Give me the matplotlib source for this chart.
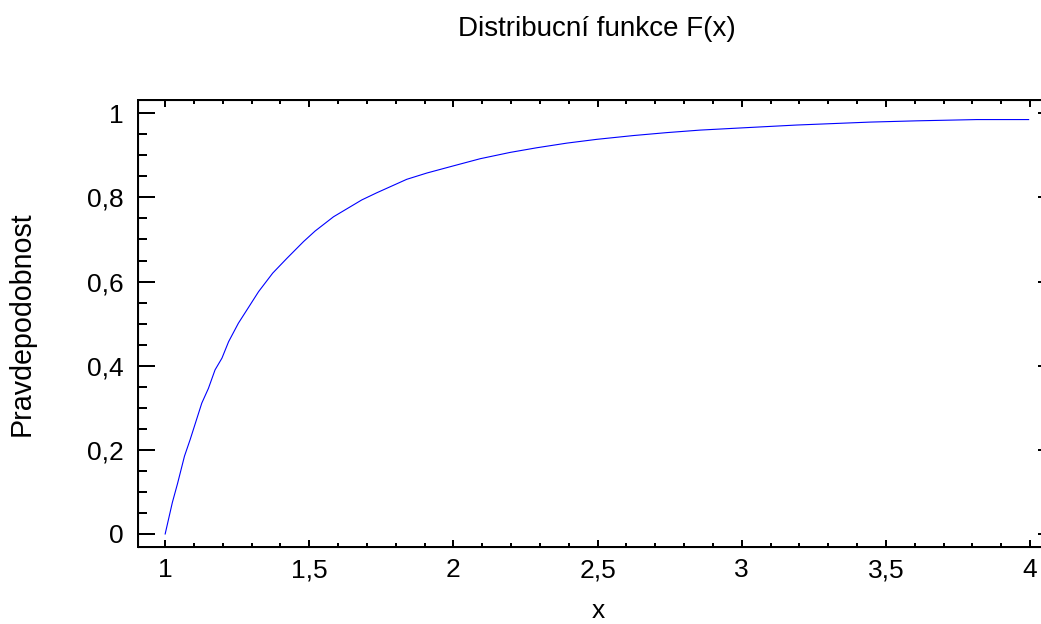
import matplotlib.pyplot as plt
from matplotlib.ticker import MultipleLocator, FuncFormatter

plt.rcParams['font.family'] = ['Liberation Sans', 'DejaVu Sans']

# values
x_values = [1.0, 1.025, 1.043, 1.067, 1.087, 1.127, 1.15, 1.173, 1.197, 1.22,
            1.254, 1.283, 1.324, 1.373, 1.422, 1.48, 1.52, 1.584, 1.682, 1.734,
            1.838, 1.908, 2.0, 2.093, 2.197, 2.289, 2.393, 2.497, 2.624, 2.74,
            2.856, 2.994, 3.19, 3.445, 3.607, 3.815, 3.995]
y_values = [0.0, 0.075, 0.12, 0.185, 0.225, 0.311, 0.346, 0.39, 0.418, 0.457,
            0.501, 0.532, 0.576, 0.62, 0.655, 0.695, 0.72, 0.754, 0.794, 0.811,
            0.843, 0.858, 0.875, 0.892, 0.907, 0.918, 0.929, 0.938, 0.947, 0.954,
            0.96, 0.965, 0.972, 0.979, 0.982, 0.985, 0.985]

title = "Distribucní funkce F(x)"
x_label = "x"
y_label = "Pravdepodobnost"

fig = plt.figure(figsize=(10.41, 6.24), dpi=100)
ax = fig.add_axes([0.1329, 0.1239, 0.871, 0.7159])

ax.plot(x_values, y_values, color='#0000ff', lw=0.8)

ax.set_xlim(0.907, 4.052)
ax.set_ylim(-0.0302, 1.0316)

comma = FuncFormatter(lambda v, p: ('%g' % round(v, 2)).replace('.', ','))
ax.xaxis.set_major_locator(MultipleLocator(0.5))
ax.xaxis.set_minor_locator(MultipleLocator(0.1))
ax.yaxis.set_major_locator(MultipleLocator(0.2))
ax.yaxis.set_minor_locator(MultipleLocator(0.05))
ax.xaxis.set_major_formatter(comma)
ax.yaxis.set_major_formatter(comma)

for s in ax.spines.values():
    s.set_linewidth(1.44)

# x ticks on bottom and top, short, pointing in
ax.tick_params(axis='x', which='major', direction='in', length=5, width=1.44,
               top=True, labelsize=19, pad=8.5)
ax.tick_params(axis='x', which='minor', direction='in', length=2.7, width=1.44,
               top=True)
# y ticks on the left are long
ax.tick_params(axis='y', which='major', direction='in', length=12.2, width=1.44,
               labelsize=19, pad=10.8)
ax.tick_params(axis='y', which='minor', direction='in', length=6.5, width=1.44)

# right side only has short major ticks
ax2 = ax.twinx()
ax2.set_ylim(ax.get_ylim())
ax2.yaxis.set_major_locator(MultipleLocator(0.2))
ax2.tick_params(axis='y', which='major', direction='in', length=5, width=1.44,
                labelright=False)
ax2.tick_params(axis='y', which='minor', right=False)

fig.text(596.5 / 1041, 0.9428, title, ha='center', va='baseline', fontsize=20)
fig.text(598.5 / 1041, 0.002, x_label, ha='center', va='bottom', fontsize=19)
fig.text(22 / 1041, 0.4817, y_label, ha='center', va='center', rotation=90,
         fontsize=20.6)

plt.savefig('out.png', dpi=100)
